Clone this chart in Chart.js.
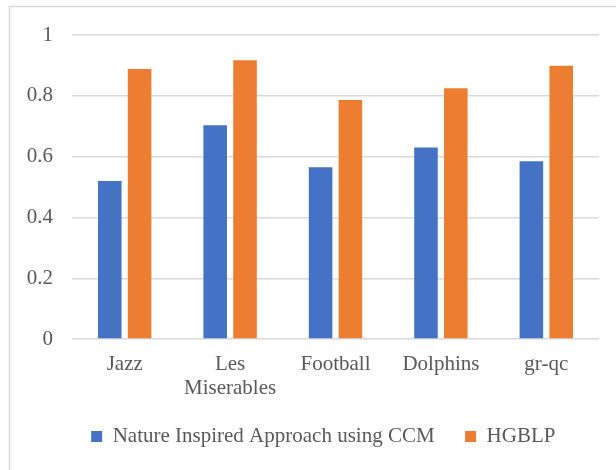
<!DOCTYPE html>
<html>
<head>
<meta charset="utf-8">
<script src="https://cdn.jsdelivr.net/npm/chart.js@4/dist/chart.umd.min.js"></script>
<style>
  html, body { margin: 0; padding: 0; background: #ffffff; }
  #wrap { position: relative; width: 616px; height: 470px; }
</style>
</head>
<body>
<div id="wrap"><canvas id="chart" width="616" height="470"></canvas></div>
<script>
// Networks compared
const categories = ['Jazz', ['Les', 'Miserables'], 'Football', 'Dolphins', 'gr-qc'];
// Scores per network
const ccmValues = [0.520, 0.703, 0.565, 0.630, 0.585];
const hgblpValues = [0.888, 0.917, 0.786, 0.825, 0.899];
// Value axis labels
const yTicks = [0, 0.2, 0.4, 0.6, 0.8, 1];
const seriesNames = ['Nature Inspired Approach using CCM', 'HGBLP'];

const textColor = '#595959';
const gridColor = '#d9d9d9';
const serif = "'Liberation Serif', 'Times New Roman', serif";

// Light frame around the whole chart
const framePlugin = {
  id: 'frame',
  beforeDraw(chart) {
    const ctx = chart.ctx;
    ctx.save();
    ctx.strokeStyle = gridColor;
    ctx.lineWidth = 1.5;
    ctx.beginPath();
    ctx.moveTo(9.5, chart.height + 2);
    ctx.lineTo(9.5, 6.5);
    ctx.lineTo(chart.width + 2, 6.5);
    ctx.stroke();
    ctx.restore();
  }
};

// Nudge the legend row so it sits under the plot area
const legendShift = {
  id: 'legendShift',
  afterLayout(chart) {
    const dx = 19.3;
    chart.legend.left += dx;
    chart.legend.right += dx;
  }
};

new Chart(document.getElementById('chart'), {
  type: 'bar',
  data: {
    labels: categories,
    datasets: [
      { label: seriesNames[0], data: ccmValues, backgroundColor: '#4472C4' },
      { label: seriesNames[1], data: hgblpValues, backgroundColor: '#ED7D31' }
    ]
  },
  options: {
    responsive: false,
    animation: false,
    devicePixelRatio: 1,
    categoryPercentage: 0.566,
    barPercentage: 0.79,
    layout: { padding: { top: 35, right: 17, bottom: 13, left: 9 } },
    plugins: {
      tooltip: { enabled: false },
      legend: {
        position: 'bottom',
        labels: {
          boxWidth: 11,
          boxHeight: 11,
          padding: 30.5,
          color: textColor,
          font: { family: serif, size: 21 }
        }
      }
    },
    scales: {
      x: {
        grid: { display: false, drawTicks: false },
        border: { display: false },
        ticks: {
          color: textColor,
          padding: 13,
          maxRotation: 0,
          autoSkip: false,
          font: { family: serif, size: 21, lineHeight: 1.15 }
        },
        afterFit(scale) { scale.height = 56.4; }
      },
      y: {
        min: 0,
        max: 1,
        grid: { color: gridColor, lineWidth: 1.5, drawTicks: false },
        border: { display: false },
        afterBuildTicks(scale) { scale.ticks = yTicks.map(v => ({ value: v })); },
        ticks: {
          color: textColor,
          padding: 19,
          font: { family: serif, size: 21 },
          callback: v => String(v)
        },
        afterFit(scale) { scale.width = 63; }
      }
    }
  },
  plugins: [framePlugin, legendShift]
});
</script>
</body>
</html>
